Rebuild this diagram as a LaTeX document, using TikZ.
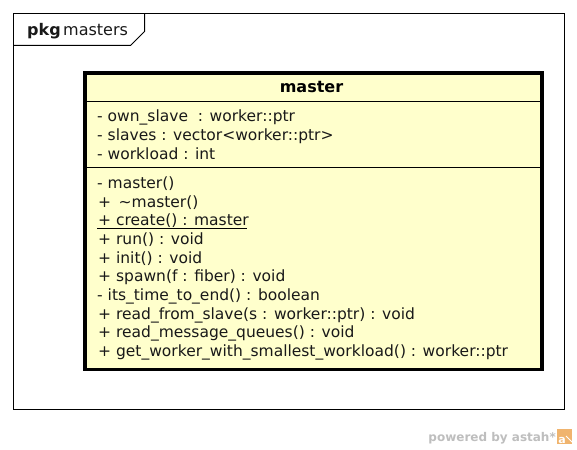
\documentclass[tikz,border=0pt]{standalone}
\usepackage{fontspec}
\setmainfont{DejaVu Sans}
\definecolor{classfill}{RGB}{255,255,204}
\definecolor{wm}{RGB}{190,190,190}
\definecolor{wmo}{RGB}{240,180,110}
\tikzset{
  member/.style={anchor=base west,inner sep=0pt,font=\fontsize{15.5}{17}\selectfont,text=black!90},
  frameline/.style={draw=black,line width=1pt},
  sepline/.style={draw=black,line width=1pt}
}
\begin{document}
\begin{tikzpicture}[x=1pt,y=-1pt]
\useasboundingbox (0,0) rectangle (577,449);
\fill[white] (0,0) rectangle (577,449);
\draw[frameline] (13.5,13.5) rectangle (564.5,409.5);
\draw[frameline] (13.5,45.5) -- (130.5,45.5) -- (144.5,31.5) -- (144.5,13.5);
\node[member,font=\fontsize{16}{18}\selectfont\bfseries] (pk) at (27,36) {pkg};
\node[member,font=\fontsize{16}{18}\selectfont] (pn) at (63,36) {masters};
\draw[fill=classfill,draw=black,line width=3.4pt] (85,73.2) rectangle (542,369.5);
\draw[sepline] (85,101.5) -- (542,101.5);
\draw[sepline] (85,167) -- (542,167);
\node[anchor=base,inner sep=0pt,font=\fontsize{16}{18}\selectfont\bfseries] (title) at (311.5,93) {master};
\node[member] (a1) at (97,122) {- own\_slave~ : worker::ptr};
\node[member] (a2) at (97,140.5) {- slaves : vector<worker::ptr>};
\node[member] (a3) at (97,159) {- workload : int};
\node[member] (o1) at (97,188) {- master()};
\node[member] (o2) at (98,207) {+ \,\textasciitilde master()};
\node[member] (o3) at (98,225.5) {+ create() : master};
\draw[line width=1pt] (97,228.5) -- (247,228.5);
\node[member] (o4) at (98,244) {+ run() : void};
\node[member] (o5) at (98,263) {+ init() : void};
\node[member] (o6) at (98,281) {+ spawn(f : fiber) : void};
\node[member] (o7) at (97,300) {- its\_time\_to\_end() : boolean};
\node[member] (o8) at (98,319) {+ read\_from\_slave(s : worker::ptr) : void};
\node[member] (o9) at (98,337.5) {+ read\_message\_queues() : void};
\node[member] (o10) at (98,356) {+ get\_worker\_with\_smallest\_workload() : worker::ptr};
\node[anchor=base east,inner sep=0pt,text=wm,font=\fontsize{12}{14}\selectfont\bfseries] (pw) at (556,441) {powered by astah*};
\fill[wmo] (557,429) rectangle (572,444);
\node[anchor=base,inner sep=0pt,text=white,font=\fontsize{11}{11}\selectfont\bfseries] (ic) at (562,443) {a};
\draw[white,line width=1pt] (566,436) -- (572,442);
\end{tikzpicture}
\end{document}
